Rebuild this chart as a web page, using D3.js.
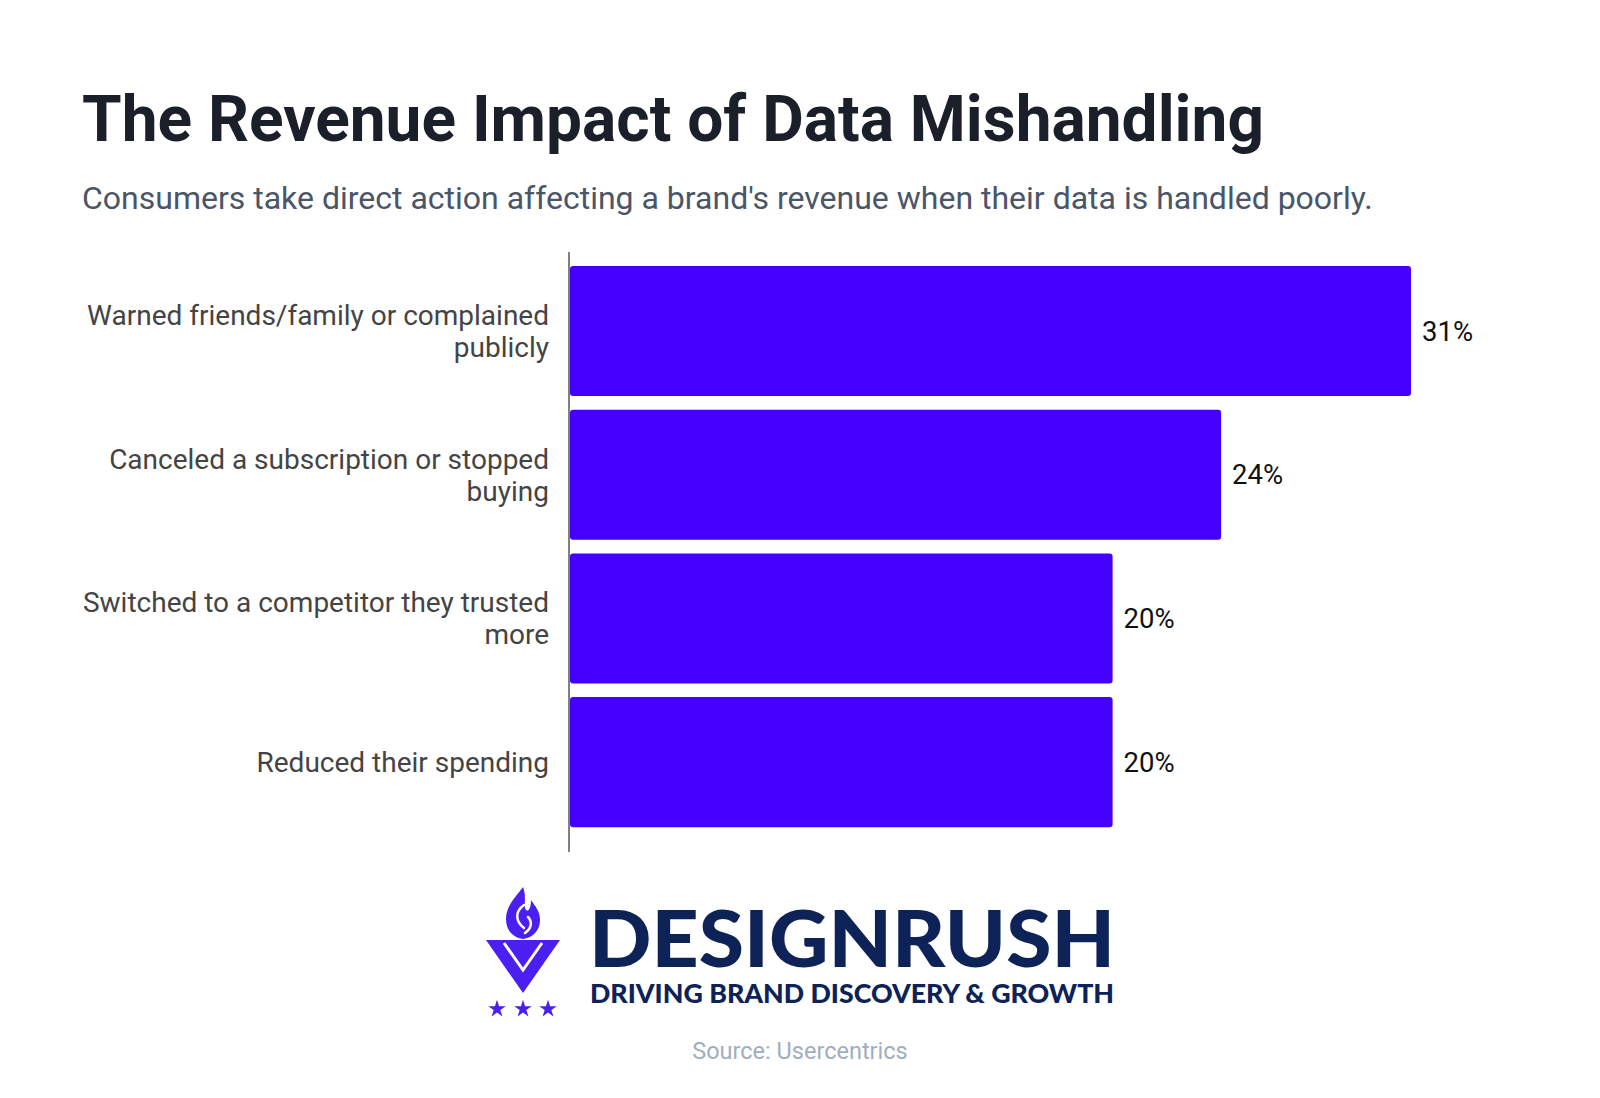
<!DOCTYPE html>
<html>
<head>
<meta charset="utf-8">
<script src="https://cdn.jsdelivr.net/npm/d3@7"></script>
<style>
  html, body { margin: 0; padding: 0; background: #ffffff; }
  svg { display: block; font-family: Roboto, "Noto Sans", sans-serif; }
</style>
</head>
<body>
<svg id="chart" width="1600" height="1098"></svg>
<script>
// ---- data ----
const categories = [
  "Warned friends/family or complained publicly",
  "Canceled a subscription or stopped buying",
  "Switched to a competitor they trusted more",
  "Reduced their spending"
];
const values = [31, 24, 20, 20];
const valueLabels = ["31%", "24%", "20%", "20%"];
const titleText = "The Revenue Impact of Data Mishandling";
const subtitleText = "Consumers take direct action affecting a brand's revenue when their data is handled poorly.";
const sourceText = "Source: Usercentrics";
const brandName = "DESIGNRUSH";
const brandTagline = "DRIVING BRAND DISCOVERY & GROWTH";

// ---- layout ----
const svg = d3.select("#chart");
const barColor = "#4400ff";
const axisX = 569;

svg.append("rect").attr("width", 1600).attr("height", 1098).attr("fill", "#ffffff");

svg.append("text")
  .attr("x", 82).attr("y", 141)
  .attr("font-size", 64).attr("font-weight", 700)
  .attr("fill", "#1b1f2a")
  .text(titleText);

svg.append("text")
  .attr("x", 82).attr("y", 209)
  .attr("font-size", 32).attr("font-weight", 400)
  .attr("fill", "#4a5568")
  .text(subtitleText);

const x = d3.scaleLinear().domain([0, 31]).range([570, 1411]);
const y = d3.scaleBand().domain(categories).range([252, 852])
  .paddingInner(0.095).paddingOuter(0.135).align(0.36);

const g = svg.append("g");

g.selectAll("rect.bar").data(categories).join("rect")
  .attr("class", "bar")
  .attr("x", x(0))
  .attr("y", d => y(d))
  .attr("width", (d, i) => x(values[i]) - x(0))
  .attr("height", y.bandwidth())
  .attr("rx", 3)
  .attr("fill", barColor);

// axis line
svg.append("line")
  .attr("x1", axisX).attr("x2", axisX)
  .attr("y1", 252).attr("y2", 852)
  .attr("stroke", "#808080").attr("stroke-width", 2);

// value labels
g.selectAll("text.val").data(categories).join("text")
  .attr("class", "val")
  .attr("x", (d, i) => x(values[i]) + 11)
  .attr("y", d => y(d) + y.bandwidth() / 2)
  .attr("dy", "0.35em")
  .attr("font-size", 27.5)
  .attr("fill", "#111111")
  .text((d, i) => valueLabels[i]);

// category labels with wrapping
const maxW = 480, lineH = 32;
categories.forEach(cat => {
  const t = svg.append("text")
    .attr("text-anchor", "end")
    .attr("font-size", 28)
    .attr("fill", "#444444");
  const words = cat.split(" ");
  const lines = [];
  let cur = [];
  const probe = t.append("tspan");
  words.forEach(w => {
    const test = cur.concat([w]).join(" ");
    probe.text(test);
    if (probe.node().getComputedTextLength() > maxW && cur.length) {
      lines.push(cur.join(" "));
      cur = [w];
    } else cur.push(w);
  });
  lines.push(cur.join(" "));
  probe.remove();
  const cy = y(cat) + y.bandwidth() / 2;
  const firstY = cy - (lines.length - 1) * lineH / 2;
  lines.forEach((ln, i) => {
    t.append("tspan")
      .attr("x", 549)
      .attr("y", firstY + i * lineH)
      .attr("dy", "0.35em")
      .text(ln);
  });
});

// ---- logo ----
const logo = svg.append("g");
const purple = "#4b1ef2";
const navy = "#0d2257";
// flame
logo.append("path")
  .attr("d", "M523,887 C515,898 506,906 506,919 C506,931 514,938 523,939 C532,938 540,931 540,920 C540,911 535,906 531,900 C531,909 528,912 526,910 C523,906 527,897 523,887 Z")
  .attr("fill", purple);
logo.append("path")
  .attr("d", "M524,905 C514,912 516,922 524,928 M528,917 C533,922 531,929 525,933")
  .attr("fill", "none").attr("stroke", "#ffffff").attr("stroke-width", 2.5).attr("stroke-linecap", "round");
// V
logo.append("path")
  .attr("d", "M486,940 L560,940 L523,993 Z")
  .attr("fill", purple);
logo.append("path")
  .attr("d", "M504,943 L523,970 L542,943")
  .attr("fill", "none").attr("stroke", "#ffffff").attr("stroke-width", 3);
logo.append("path")
  .attr("d", "M511,944 L535,944 L523,960 Z")
  .attr("fill", purple);
// stars
[497, 523, 548].forEach(cx => {
  logo.append("path")
    .attr("d", d3.symbol().type(d3.symbolStar).size(95)())
    .attr("transform", `translate(${cx},1009)`)
    .attr("fill", purple);
});
logo.append("text")
  .attr("x", 589).attr("y", 967)
  .attr("font-family", "Lato, 'Open Sans', sans-serif")
  .attr("font-size", 78).attr("font-weight", 900)
  .attr("fill", navy)
  .attr("textLength", 526).attr("lengthAdjust", "spacingAndGlyphs")
  .text(brandName);
logo.append("text")
  .attr("x", 590).attr("y", 1003)
  .attr("font-family", "Lato, 'Open Sans', sans-serif")
  .attr("font-size", 26).attr("font-weight", 900)
  .attr("fill", navy)
  .attr("textLength", 524).attr("lengthAdjust", "spacingAndGlyphs")
  .text(brandTagline);

// source
svg.append("text")
  .attr("x", 800).attr("y", 1059)
  .attr("text-anchor", "middle")
  .attr("font-size", 23.5)
  .attr("fill", "#a0aec0")
  .text(sourceText);
</script>
</body>
</html>
